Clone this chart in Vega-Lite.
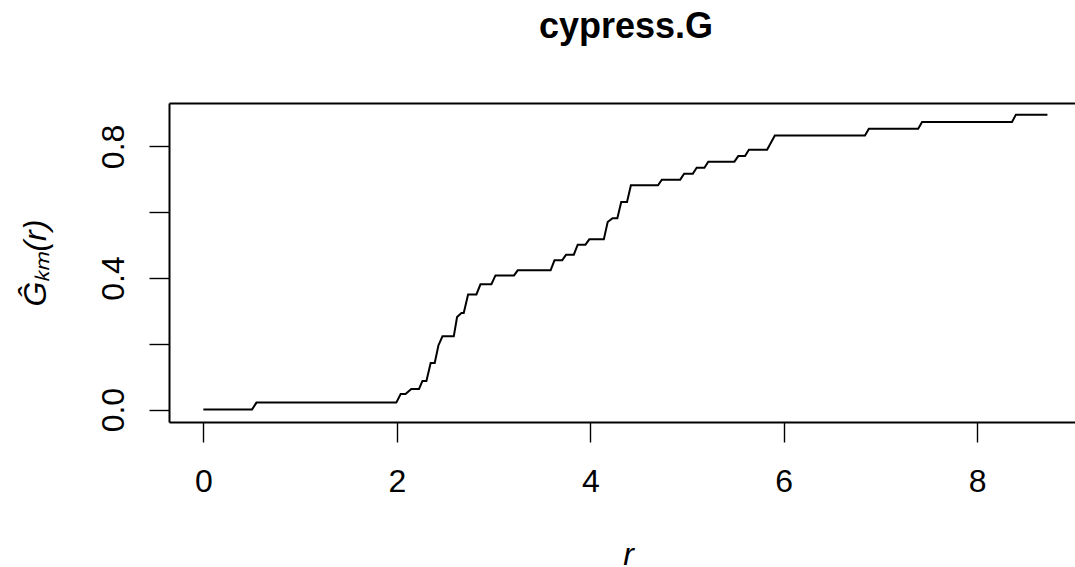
{
  "$schema": "https://vega.github.io/schema/vega-lite/v6.json",
  "width": 906,
  "height": 319,
  "autosize": {"type": "none"},
  "padding": {"left": 169, "top": 103, "right": 0, "bottom": 145},
  "background": "white",
  "title": {
    "text": "cypress.G",
    "font": "Liberation Sans",
    "fontSize": 36,
    "fontWeight": "bold",
    "color": "black",
    "anchor": "middle",
    "offset": 57,
    "dx": 4
  },
  "config": {
    "view": {"stroke": null},
    "axis": {
      "grid": false,
      "domainColor": "black",
      "domainWidth": 2,
      "tickColor": "black",
      "tickWidth": 1.4,
      "tickSize": 20,
      "labelFont": "Liberation Sans",
      "labelFontSize": 32,
      "labelColor": "black",
      "titleFont": "Liberation Sans",
      "titleFontSize": 32,
      "titleFontWeight": "normal",
      "titleFontStyle": "italic",
      "titleColor": "black"
    }
  },
  "data": {
    "values": [
      {"r": 0, "G": 0},
      {"r": 0.503, "G": 0},
      {"r": 0.549, "G": 0.0213},
      {"r": 1.995, "G": 0.0213},
      {"r": 2.04, "G": 0.0474},
      {"r": 2.09, "G": 0.0474},
      {"r": 2.15, "G": 0.0626},
      {"r": 2.23, "G": 0.0626},
      {"r": 2.265, "G": 0.087},
      {"r": 2.306, "G": 0.087},
      {"r": 2.35, "G": 0.1417},
      {"r": 2.392, "G": 0.1417},
      {"r": 2.43, "G": 0.195},
      {"r": 2.472, "G": 0.2228},
      {"r": 2.589, "G": 0.2228},
      {"r": 2.623, "G": 0.2815},
      {"r": 2.668, "G": 0.2936},
      {"r": 2.692, "G": 0.2936},
      {"r": 2.737, "G": 0.35},
      {"r": 2.823, "G": 0.35},
      {"r": 2.865, "G": 0.381},
      {"r": 2.978, "G": 0.381},
      {"r": 3.02, "G": 0.408},
      {"r": 3.212, "G": 0.408},
      {"r": 3.25, "G": 0.4234},
      {"r": 3.59, "G": 0.4234},
      {"r": 3.63, "G": 0.4537},
      {"r": 3.71, "G": 0.4537},
      {"r": 3.75, "G": 0.471},
      {"r": 3.83, "G": 0.471},
      {"r": 3.87, "G": 0.5014},
      {"r": 3.95, "G": 0.5014},
      {"r": 3.99, "G": 0.5175},
      {"r": 4.14, "G": 0.5175},
      {"r": 4.18, "G": 0.57},
      {"r": 4.23, "G": 0.582},
      {"r": 4.28, "G": 0.582},
      {"r": 4.32, "G": 0.631},
      {"r": 4.38, "G": 0.631},
      {"r": 4.42, "G": 0.6817},
      {"r": 4.70, "G": 0.6817},
      {"r": 4.74, "G": 0.699},
      {"r": 4.93, "G": 0.699},
      {"r": 4.97, "G": 0.717},
      {"r": 5.06, "G": 0.717},
      {"r": 5.10, "G": 0.7354},
      {"r": 5.18, "G": 0.7354},
      {"r": 5.22, "G": 0.7536},
      {"r": 5.49, "G": 0.7536},
      {"r": 5.53, "G": 0.7707},
      {"r": 5.60, "G": 0.7707},
      {"r": 5.64, "G": 0.79},
      {"r": 5.828, "G": 0.79},
      {"r": 5.908, "G": 0.8335},
      {"r": 6.84, "G": 0.8335},
      {"r": 6.88, "G": 0.854},
      {"r": 7.39, "G": 0.854},
      {"r": 7.43, "G": 0.874},
      {"r": 8.36, "G": 0.874},
      {"r": 8.40, "G": 0.8966},
      {"r": 8.726, "G": 0.8966}
    ]
  },
  "layer": [
    {
      "mark": {"type": "line", "color": "black", "strokeWidth": 2},
      "encoding": {
        "x": {
          "field": "r",
          "type": "quantitative",
          "scale": {"domain": [-0.355, 9.011], "nice": false, "zero": false},
          "axis": {
            "orient": "bottom",
            "values": [0, 2, 4, 6, 8],
            "labelPadding": 24,
            "labelBaseline": "top",
            "labelFlush": false,
            "labelOverlap": false,
            "title": "r",
            "titleX": 459,
            "titleY": 142,
            "titleBaseline": "alphabetic",
            "titleAlign": "center"
          }
        },
        "y": {
          "field": "G",
          "type": "quantitative",
          "scale": {"domain": [-0.0377, 0.932], "nice": false, "zero": false},
          "axis": {
            "orient": "left",
            "values": [0, 0.2, 0.4, 0.6, 0.8],
            "format": ".1f",
            "labelAngle": 270,
            "labelAlign": "center",
            "labelBaseline": "alphabetic",
            "labelPadding": 26,
            "labelFlush": false,
            "labelOverlap": false,
            "labelExpr": "datum.value == 0.2 || datum.value == 0.6 ? '' : datum.label",
            "title": "Ĝₖₘ(r)",
            "titleAngle": 270,
            "titleX": -124,
            "titleY": 159.5,
            "titleAlign": "center",
            "titleBaseline": "alphabetic"
          }
        }
      }
    },
    {
      "mark": {"type": "line", "opacity": 0},
      "encoding": {
        "x": {
          "field": "r",
          "type": "quantitative",
          "axis": {"orient": "top", "labels": false, "ticks": false, "title": null, "domainColor": "black", "domainWidth": 2}
        },
        "y": {"field": "G", "type": "quantitative", "axis": null}
      }
    }
  ],
  "resolve": {"axis": {"x": "independent", "y": "independent"}}
}
